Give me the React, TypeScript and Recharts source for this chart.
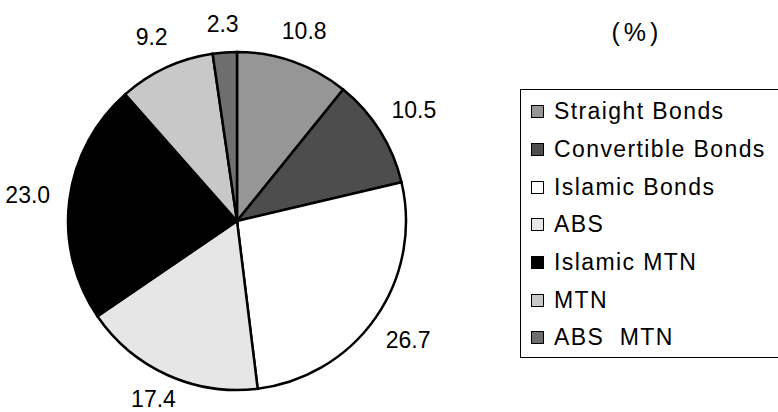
import React from 'react';
import { PieChart, Pie, Cell, Legend } from 'recharts';

const categories = [
  'Straight Bonds',
  'Convertible Bonds',
  'Islamic Bonds',
  'ABS',
  'Islamic MTN',
  'MTN',
  'ABS  MTN',
];
const shares = [10.8, 10.5, 26.7, 17.4, 23.0, 9.2, 2.3];
const colors = ['#969696', '#4d4d4d', '#ffffff', '#e6e6e6', '#000000', '#c8c8c8', '#6e6e6e'];

const data = categories.map((name, i) => ({ name, value: shares[i] }));

const FONT = '"Liberation Sans", Arial, sans-serif';
const RAD = Math.PI / 180;

const renderLabel = (props: any) => {
  const { cx, cy, outerRadius, midAngle, value } = props;
  const c = Math.cos(-midAngle * RAD);
  const s = Math.sin(-midAngle * RAD);
  const r = outerRadius + 28 + 14 * Math.abs(c);
  // keep the bottom label inside the 412px frame
  const y = Math.min(cy + r * s, 399);
  return (
    <text
      x={cx + r * c}
      y={y}
      textAnchor="middle"
      dominantBaseline="central"
      fontFamily={FONT}
      fontSize={23}
      fill="#000"
    >
      {value.toFixed(1)}
    </text>
  );
};

const LegendBox = () => (
  <div
    style={{
      border: '1px solid #000',
      width: 270,
      height: 269,
      boxSizing: 'border-box',
      paddingTop: 3,
      fontFamily: FONT,
      fontSize: 23,
      letterSpacing: 1.4,
      background: '#fff',
    }}
  >
    {categories.map((name, i) => (
      <div key={name} style={{ display: 'flex', alignItems: 'center', height: 37.7 }}>
        <span
          style={{
            display: 'inline-block',
            width: 11,
            height: 11,
            marginLeft: 10,
            marginRight: 10,
            border: '1.5px solid #000',
            background: colors[i],
          }}
        />
        <span style={{ whiteSpace: 'pre' }}>{name}</span>
      </div>
    ))}
  </div>
);

const App: React.FC = () => {
  return (
    <div style={{ position: 'absolute', left: 0, top: 0, width: 778, height: 412, background: '#fff' }}>
      <PieChart width={778} height={412} margin={{ top: 0, right: 0, bottom: 0, left: 0 }}>
        <Pie
          data={data}
          dataKey="value"
          nameKey="name"
          cx={237}
          cy={221}
          outerRadius={169}
          startAngle={90}
          endAngle={-270}
          stroke="#000"
          strokeWidth={2.5}
          label={renderLabel}
          labelLine={false}
          isAnimationActive={false}
        >
          {data.map((d, i) => (
            <Cell key={d.name} fill={colors[i]} />
          ))}
        </Pie>
        <Legend
          content={<LegendBox />}
          wrapperStyle={{ position: 'absolute', left: 520, top: 89, width: 270 }}
        />
        <text x={637} y={32} textAnchor="middle" dominantBaseline="central" fontFamily={FONT} fontSize={25} letterSpacing={4}>
          (%)
        </text>
      </PieChart>
    </div>
  );
};

export default App;
